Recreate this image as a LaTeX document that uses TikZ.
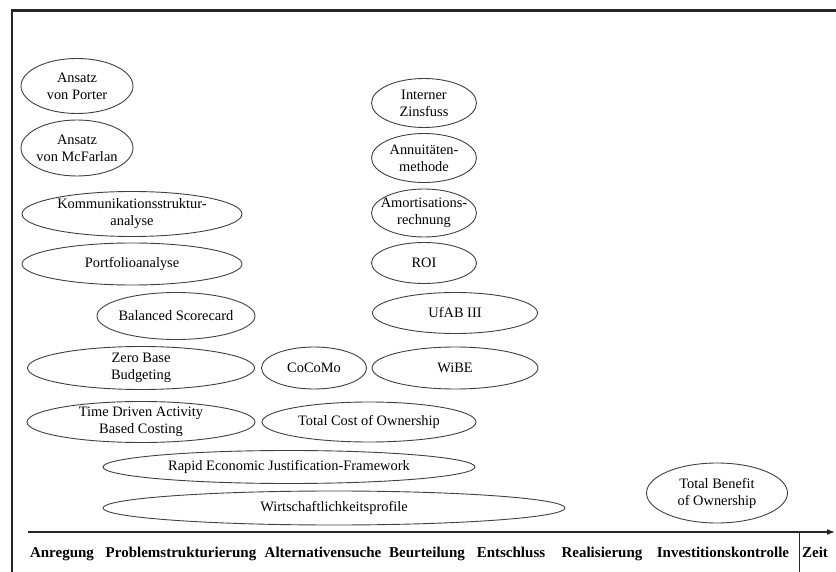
\documentclass[tikz,border=0pt]{standalone}
\usepackage{fontspec}
\setmainfont{Liberation Serif}
\usetikzlibrary{arrows.meta}

\tikzset{
  methtext/.style={inner sep=0pt, align=center, font=\fontsize{14.4}{17}\selectfont},
  methline/.style={draw=black!75, line width=0.9pt},
  phase/.style={inner sep=0pt, anchor=base, font=\fontsize{15}{18}\selectfont\bfseries},
  frameline/.style={line width=2.4pt, draw=black!85},
  axisline/.style={line width=1.1pt, draw=black!85, -{Latex[length=8pt,width=6pt]}},
  tickline/.style={line width=0.9pt, draw=black!85},
}

% method: name, centre x, centre y (downwards), width, height, text
\newcommand\ellnode[6]{%
  \node[methtext] (#1) at (#2pt,-#3pt) {#6};
  \draw[methline] (#1.center) ellipse [x radius=#4pt/2, y radius=#5pt/2];
}

\begin{document}
\begin{tikzpicture}
\useasboundingbox (0pt,0pt) rectangle (836pt,-572pt);

% outer frame (top and left)
\coordinate (frameBL) at (12pt,-572pt);
\coordinate (frameTL) at (12pt,-10.5pt);
\coordinate (frameTR) at (836pt,-10.5pt);
\draw[frameline] (frameBL) -- (frameTL) -- (frameTR);

% strategic methods
\ellnode{porter}{77}{86}{112}{55}{Ansatz\\von Porter}
\ellnode{mcfarlan}{77}{148}{112}{56}{Ansatz\\von McFarlan}
\ellnode{komm}{132}{214}{220}{45}{Kommunikationsstruktur-\\analyse}
\ellnode{portfolio}{132}{264}{220}{42}{Portfolioanalyse}
\ellnode{bsc}{176}{316}{158}{47}{Balanced Scorecard}
\ellnode{zbb}{141}{368}{227}{43}{Zero Base\\Budgeting}
\ellnode{tdabc}{141}{422}{228}{41}{Time Driven Activity\\Based Costing}

% cost-oriented methods
\ellnode{cocomo}{314}{368}{105}{42}{CoCoMo}
\ellnode{tco}{369}{422}{214}{40}{Total Cost of Ownership}

% investment appraisal
\ellnode{irr}{424}{103}{105}{49}{Interner\\Zinsfuss}
\ellnode{annuity}{424}{158}{105}{49}{Annuitäten-\\methode}
\ellnode{amort}{424}{213}{105}{48}{Amortisations-\\rechnung}
\ellnode{roi}{424}{263}{105}{41}{ROI}
\ellnode{ufab}{455}{313}{165}{41}{UfAB III}
\ellnode{wibe}{455}{368}{166}{42}{WiBE}

% comprehensive frameworks
\ellnode{ref}{289}{467}{372}{33}{Rapid Economic Justification-Framework}
\ellnode{wprof}{334}{508}{462}{34}{Wirtschaftlichkeitsprofile}
\ellnode{tbo}{717}{493}{141}{60}{Total Benefit\\of Ownership}

% time axis
\coordinate (axisStart) at (28pt,-532pt);
\coordinate (axisEnd) at (835pt,-532pt);
\draw[axisline] (axisStart) -- (axisEnd);
\coordinate (tickTop) at (799pt,-532pt);
\coordinate (tickBottom) at (799pt,-572pt);
\draw[tickline] (tickTop) -- (tickBottom);

% phases
\node[phase] (p1) at (62pt,-557pt) {Anregung};
\node[phase] (p2) at (181pt,-557pt) {Problemstrukturierung};
\node[phase] (p3) at (323pt,-557pt) {Alternativensuche};
\node[phase] (p4) at (427pt,-557pt) {Beurteilung};
\node[phase] (p5) at (511pt,-557pt) {Entschluss};
\node[phase] (p6) at (602pt,-557pt) {Realisierung};
\node[phase] (p7) at (723pt,-557pt) {Investitionskontrolle};
\node[phase] (p8) at (815pt,-557pt) {Zeit};
\end{tikzpicture}
\end{document}
